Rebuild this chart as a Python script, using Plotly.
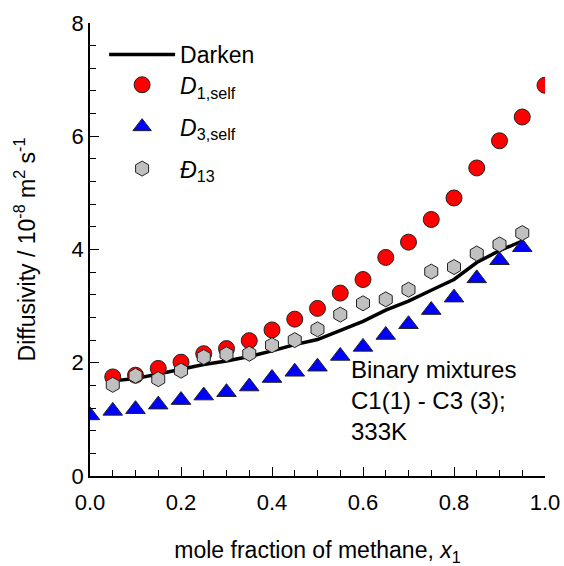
import plotly.graph_objects as go

# Mole fraction of methane, x1
x_darken = [0.05, 0.10, 0.15, 0.20, 0.25, 0.30, 0.35, 0.40, 0.45, 0.50,
            0.55, 0.60, 0.65, 0.70, 0.75, 0.80, 0.85, 0.90, 0.95]
x_d1 = [0.05, 0.10, 0.15, 0.20, 0.25, 0.30, 0.35, 0.40, 0.45, 0.50,
        0.55, 0.60, 0.65, 0.70, 0.75, 0.80, 0.85, 0.90, 0.95, 1.00]
x_d3 = [0.00, 0.05, 0.10, 0.15, 0.20, 0.25, 0.30, 0.35, 0.40, 0.45,
        0.50, 0.55, 0.60, 0.65, 0.70, 0.75, 0.80, 0.85, 0.90, 0.95]
x_d13 = [0.05, 0.10, 0.15, 0.20, 0.25, 0.30, 0.35, 0.40, 0.45, 0.50,
         0.55, 0.60, 0.65, 0.70, 0.75, 0.80, 0.85, 0.90, 0.95]

# Diffusivities / 1e-8 m2 s-1
darken = [1.68, 1.72, 1.80, 1.89, 1.97, 2.03, 2.11, 2.21, 2.32, 2.41,
          2.57, 2.73, 2.93, 3.09, 3.28, 3.47, 3.77, 3.98, 4.15]
d1_self = [1.75, 1.78, 1.90, 2.01, 2.16, 2.25, 2.39, 2.58, 2.77, 2.96,
           3.23, 3.47, 3.86, 4.13, 4.53, 4.91, 5.44, 5.92, 6.34, 6.90]
d3_self = [1.07, 1.15, 1.18, 1.26, 1.34, 1.42, 1.48, 1.58, 1.73, 1.84,
           1.93, 2.12, 2.28, 2.49, 2.68, 2.93, 3.15, 3.49, 3.81, 4.04]
d13_ms = [1.61, 1.77, 1.71, 1.86, 2.10, 2.15, 2.16, 2.31, 2.40, 2.59,
          2.85, 3.05, 3.12, 3.29, 3.61, 3.69, 3.93, 4.09, 4.29]

FONT = "Liberation Sans, Arial, sans-serif"
edge = dict(color="#222222", width=1)

fig = go.Figure()
fig.add_trace(go.Scatter(
    x=x_darken, y=darken, mode="lines", name="Darken",
    line=dict(color="black", width=3.5), legend="legend"))
fig.add_trace(go.Scatter(
    x=x_d1, y=d1_self, mode="markers", name="<i>D</i><sub>1,self</sub>",
    marker=dict(symbol="circle", size=16, color="#FF0000", line=edge),
    legend="legend2", legendgroup="b"))
fig.add_trace(go.Scatter(
    x=x_d3, y=d3_self, mode="markers", name="<i>D</i><sub>3,self</sub>",
    marker=dict(symbol="triangle-up", size=17, color="#0000FF", line=edge),
    legend="legend2", legendgroup="c"))
fig.add_trace(go.Scatter(
    x=x_d13, y=d13_ms, mode="markers", name="<i>Đ</i><sub>13</sub>",
    marker=dict(symbol="hexagon", size=15, color="#C0C0C0", line=edge),
    legend="legend2", legendgroup="d"))

fig.add_annotation(
    x=0.569, y=2.16, xref="x", yref="y", xanchor="left", yanchor="top",
    align="left", showarrow=False,
    text="Binary mixtures<br>C1(1) - C3 (3);<br>333K",
    font=dict(family=FONT, size=24, color="black"))

legend_style = dict(xanchor="left", yanchor="top", bgcolor="rgba(0,0,0,0)",
                    font=dict(size=23), itemwidth=66)

fig.update_layout(
    width=564, height=566,
    margin=dict(l=90, r=19, t=23, b=90),
    paper_bgcolor="white", plot_bgcolor="white",
    font=dict(family=FONT, size=22, color="black"),
    showlegend=True,
    legend=dict(x=0.031, y=0.978, **legend_style),
    legend2=dict(x=0.031, y=0.911, tracegroupgap=9, **legend_style),
    xaxis=dict(
        range=[0, 1], showline=True, linecolor="black", linewidth=1.5,
        showgrid=False, zeroline=False, mirror=False, automargin=False,
        tickmode="linear", tick0=0, dtick=0.2, tickformat=".1f",
        ticks="inside", ticklen=9, tickwidth=1, tickcolor="black",
        minor=dict(dtick=0.05, ticks="inside", ticklen=6, tickwidth=1,
                   tickcolor="black", showgrid=False),
        tickfont=dict(size=22), ticklabelstandoff=6,
        title=dict(text="mole fraction of methane, <i>x</i><sub>1</sub>",
                   font=dict(size=23), standoff=30)),
    yaxis=dict(
        range=[0, 8], showline=True, linecolor="black", linewidth=1.5,
        showgrid=False, zeroline=False, mirror=False, automargin=False,
        tickmode="linear", tick0=0, dtick=2,
        ticks="inside", ticklen=9, tickwidth=1, tickcolor="black",
        minor=dict(dtick=0.4, ticks="inside", ticklen=6, tickwidth=1,
                   tickcolor="black", showgrid=False),
        tickfont=dict(size=22),
        title=dict(text="Diffusivity / 10<sup>-8</sup> m<sup>2</sup> s<sup>-1</sup>",
                   font=dict(size=23), standoff=30)),
)

fig.write_html("out.html")
